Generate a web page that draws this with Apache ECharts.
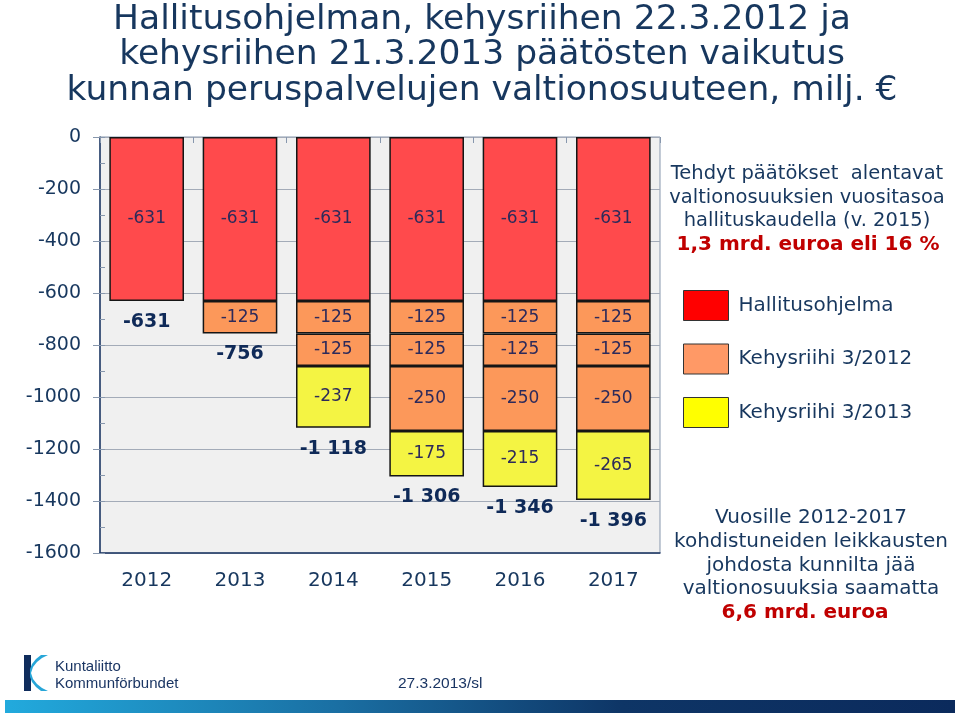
<!DOCTYPE html>
<html>
<head>
<meta charset="utf-8">
<style>html,body{margin:0;padding:0;background:#fff;}#c{width:960px;height:716px;}</style>
<script src="https://cdn.jsdelivr.net/npm/echarts@6/dist/echarts.min.js"></script>
</head>
<body>
<div id="c"></div>
<script>
const categories = ['2012', '2013', '2014', '2015', '2016', '2017'];
const hallitusohjelma = [-631, -631, -631, -631, -631, -631];
const kehys2012a = [null, -125, -125, -125, -125, -125];
const kehys2012b = [null, null, -125, -125, -125, -125];
const kehys2012c = [null, null, null, -250, -250, -250];
const kehys2013 = [null, null, -237, -175, -215, -265];
const yTicks = [0, -200, -400, -600, -800, -1000, -1200, -1400, -1600];

const titleLines = [
  'Hallitusohjelman, kehysriihen 22.3.2012 ja',
  'kehysriihen 21.3.2013 päätösten vaikutus',
  'kunnan peruspalvelujen valtionosuuteen, milj. €'
];
const noteLines = ['Tehdyt päätökset  alentavat', 'valtionosuuksien vuositasoa', 'hallituskaudella (v. 2015)'];
const noteRed = '1,3 mrd. euroa eli 16 %';
const bottomLines = ['Vuosille 2012-2017', 'kohdistuneiden leikkausten', 'johdosta kunnilta jää', 'valtionosuuksia saamatta'];
const bottomRed = '6,6 mrd. euroa';

const totals = categories.map((c, i) =>
  [hallitusohjelma, kehys2012a, kehys2012b, kehys2012c, kehys2013]
    .reduce((s, arr) => s + (arr[i] || 0), 0));

const NAVY = '#17375E';
const RED_TXT = '#C00000';
const FONT = '"DejaVu Sans", Verdana, sans-serif';
const NARROW = '"Liberation Sans Narrow", "Liberation Sans", sans-serif';
const chart = echarts.init(document.getElementById('c'));

const barStyle = (color) => ({ color: color, borderColor: '#151515', borderWidth: 1.5 });
const inLabel = { show: true, position: 'inside', color: '#2d2a5a', fontSize: 17, fontFamily: FONT };

function mkBar(name, data, color) {
  return {
    name: name, type: 'bar', stack: 'total', data: data,
    barCategoryGap: '20%', itemStyle: barStyle(color), label: inLabel,
    emphasis: { disabled: true }
  };
}

const graphics = [];
titleLines.forEach((t, i) => {
  graphics.push({ type: 'text', x: 482, y: 20 + i * 35.5,
    style: { text: t, font: '34.5px ' + FONT, fill: NAVY, textAlign: 'center', textVerticalAlign: 'middle' } });
});
noteLines.forEach((t, i) => {
  graphics.push({ type: 'text', x: 807, y: 174 + i * 23.5,
    style: { text: t, font: '19.5px ' + FONT, fill: NAVY, textAlign: 'center', textVerticalAlign: 'middle' } });
});
graphics.push({ type: 'text', x: 808, y: 245,
  style: { text: noteRed, font: 'bold 20px ' + FONT, fill: RED_TXT, textAlign: 'center', textVerticalAlign: 'middle' } });
bottomLines.forEach((t, i) => {
  graphics.push({ type: 'text', x: 811, y: 518 + i * 23.75,
    style: { text: t, font: '20px ' + FONT, fill: NAVY, textAlign: 'center', textVerticalAlign: 'middle' } });
});
graphics.push({ type: 'text', x: 805, y: 613,
  style: { text: bottomRed, font: 'bold 20px ' + FONT, fill: RED_TXT, textAlign: 'center', textVerticalAlign: 'middle' } });
// footer logo
graphics.push({ type: 'rect', shape: { x: 24, y: 655, width: 7, height: 36 }, style: { fill: '#0f2c5c' } });
graphics.push({ type: 'polygon', shape: { points: [
  [48, 655], [42, 658], [37, 662], [33, 667], [31, 673], [33, 679], [37, 684], [42, 688], [48, 691],
  [41, 691], [36, 687], [32, 682], [30, 677], [30, 669], [32, 664], [36, 659], [41, 655]
] }, style: { fill: '#27a6d8' } });
graphics.push({ type: 'text', x: 55, y: 667, style: { text: 'Kuntaliitto', font: '15px ' + NARROW, fill: '#1a3563', textVerticalAlign: 'middle' } });
graphics.push({ type: 'text', x: 55, y: 684, style: { text: 'Kommunförbundet', font: '15px ' + NARROW, fill: '#1a3563', textVerticalAlign: 'middle' } });
graphics.push({ type: 'text', x: 398, y: 684, style: { text: '27.3.2013/sl', font: '15.5px ' + NARROW, fill: '#1a3563', textVerticalAlign: 'middle' } });
graphics.push({ type: 'rect', shape: { x: 5, y: 700, width: 950, height: 13 },
  style: { fill: new echarts.graphic.LinearGradient(0, 0, 1, 0, [
    { offset: 0, color: '#22aadd' }, { offset: 0.35, color: '#1a6fa3' }, { offset: 0.65, color: '#0e3566' }, { offset: 1, color: '#0b2a5c' }]) } });

chart.setOption({
  animation: false,
  backgroundColor: '#ffffff',
  textStyle: { fontFamily: FONT },
  grid: { left: 100, right: 300, top: 137, bottom: 163, show: true, backgroundColor: '#f0f0f0', borderColor: '#8797ad', borderWidth: 1 },
  legend: {
    orient: 'vertical', left: 683, top: 290, itemWidth: 45, itemHeight: 30, itemGap: 22.5,
    padding: 0, icon: 'rect', selectedMode: false,
    textStyle: { fontSize: 20, color: NAVY, fontFamily: FONT, padding: [0, 0, 0, 5] },
    data: [
      { name: 'Hallitusohjelma', itemStyle: { color: '#ff0000', borderColor: '#333', borderWidth: 1 } },
      { name: 'Kehysriihi 3/2012', itemStyle: { color: '#ff9966', borderColor: '#333', borderWidth: 1 } },
      { name: 'Kehysriihi 3/2013', itemStyle: { color: '#ffff00', borderColor: '#333', borderWidth: 1 } }
    ]
  },
  xAxis: [
    { type: 'category', data: categories, position: 'bottom',
      axisLine: { onZero: false, lineStyle: { color: '#1f3864', width: 1.5 } },
      axisTick: { show: false },
      axisLabel: { fontSize: 20, color: NAVY, margin: 18, fontFamily: FONT } },
    { type: 'category', data: categories, position: 'top',
      axisLine: { show: false }, axisTick: { show: true, inside: true, length: 6, lineStyle: { color: '#8797ad' } },
      axisLabel: { show: false } }
  ],
  yAxis: [
    { type: 'value', min: -1600, max: 0, interval: 200,
      axisLine: { show: true, lineStyle: { color: '#1f3864', width: 1.5 } },
      axisTick: { show: true, length: 7, lineStyle: { color: '#8797ad' } },
      axisLabel: { fontSize: 19, color: NAVY, margin: 19, fontFamily: FONT,
        formatter: (v) => yTicks.includes(v) ? String(v) : '' },
      splitLine: { lineStyle: { color: '#a3abb8', width: 1 } } },
    { type: 'value', min: -1600, max: 0, interval: 100, position: 'left',
      axisLine: { show: false }, axisLabel: { show: false }, splitLine: { show: false },
      axisTick: { show: true, inside: true, length: 5, lineStyle: { color: '#8797ad' } } }
  ],
  series: [
    mkBar('Hallitusohjelma', hallitusohjelma, '#ff4a4c'),
    mkBar('Kehysriihi 3/2012', kehys2012a, '#fc985a'),
    mkBar('Kehysriihi 3/2012', kehys2012b, '#fc985a'),
    mkBar('Kehysriihi 3/2012', kehys2012c, '#fc985a'),
    mkBar('Kehysriihi 3/2013', kehys2013, '#f4f443'),
    { name: 'Yhteensä', type: 'scatter', data: totals, symbolSize: 1,
      itemStyle: { color: 'rgba(0,0,0,0)', opacity: 1 }, silent: true,
      label: { show: true, position: 'bottom', distance: 11, fontSize: 19, fontWeight: 'bold', color: '#0f2a58', fontFamily: FONT,
        formatter: (p) => String(p.value).replace(/\B(?=(\d{3})+(?!\d))/g, ' ') } }
  ],
  graphic: graphics
});
</script>
</body>
</html>
